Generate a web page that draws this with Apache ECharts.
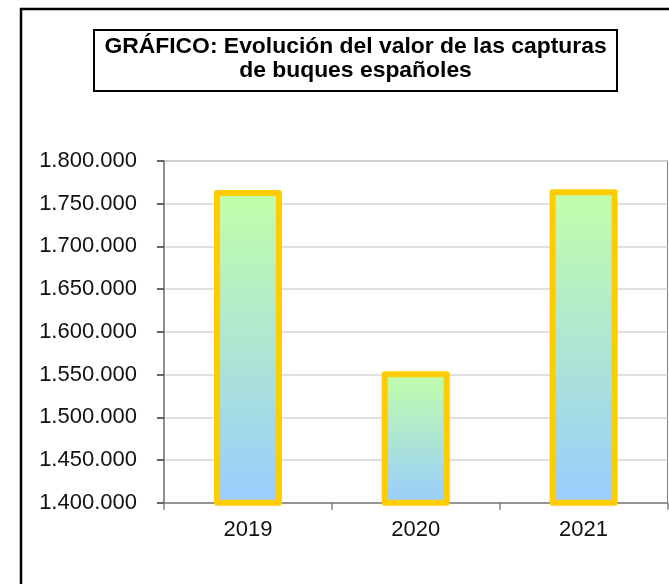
<!DOCTYPE html>
<html>
<head>
<meta charset="utf-8">
<script src="https://cdn.jsdelivr.net/npm/echarts@6/dist/echarts.min.js"></script>
<style>
html,body{margin:0;padding:0;background:#fff;}
#chart{width:669px;height:584px;}
</style>
</head>
<body>
<div id="chart"></div>
<script>
const categories = ['2019', '2020', '2021'];
const values = [1766000, 1554000, 1767000];
const titleLines = ['GRÁFICO: Evolución del valor de las capturas', 'de buques españoles'];
const yMin = 1400000, yMax = 1800000, yStep = 50000;

const FONT = '"Liberation Sans", Arial, sans-serif';
function fmt(v){ return String(v).replace(/\B(?=(\d{3})+(?!\d))/g, '.'); }

const chart = echarts.init(document.getElementById('chart'), null, {renderer:'canvas'});
chart.setOption({
  backgroundColor: '#ffffff',
  animation: false,
  graphic: [
    {type:'rect', shape:{x:21, y:9, width:700, height:640}, style:{fill:'none', stroke:'#000', lineWidth:2.5}, silent:true, z:0},
    {type:'rect', shape:{x:94, y:30, width:523, height:61}, style:{fill:'#fff', stroke:'#000', lineWidth:2}, silent:true, z:1},
    {type:'text', x:355.5, y:47, scaleX:1.04, style:{text:titleLines[0], font:'bold 22px ' + FONT, fill:'#000', textAlign:'center', textVerticalAlign:'middle'}, z:2},
    {type:'text', x:355.5, y:71, scaleX:1.04, style:{text:titleLines[1], font:'bold 22px ' + FONT, fill:'#000', textAlign:'center', textVerticalAlign:'middle'}, z:2}
  ],
  grid: {left:164, top:161, width:503.5, height:341.7, show:true, borderColor:'#808080', borderWidth:1, backgroundColor:'transparent'},
  xAxis: {
    type:'category', data:categories,
    axisLine:{show:true, lineStyle:{color:'#808080', width:1.5}},
    axisTick:{show:true, length:7, lineStyle:{color:'#808080', width:1.5}},
    axisLabel:{color:'#111', fontFamily:FONT, fontSize:22, margin:16},
    splitLine:{show:false}
  },
  yAxis: {
    type:'value', min:yMin, max:yMax, interval:yStep,
    axisLine:{show:true, lineStyle:{color:'#808080', width:1.5}},
    axisTick:{show:true, length:7, lineStyle:{color:'#333', width:1.5}},
    axisLabel:{color:'#111', fontFamily:FONT, fontSize:22, margin:27, formatter:fmt},
    splitLine:{show:true, lineStyle:{color:'#d4d4d4', width:1.5}}
  },
  series: [{
    type:'bar', data:values, barWidth:68,
    itemStyle:{
      color:new echarts.graphic.LinearGradient(0,0,0,1,[{offset:0,color:'#c2ffa8'},{offset:1,color:'#99ccff'}]),
      borderColor:'#ffcc00', borderWidth:6, borderJoin:'round'
    }
  }]
});
</script>
</body>
</html>
